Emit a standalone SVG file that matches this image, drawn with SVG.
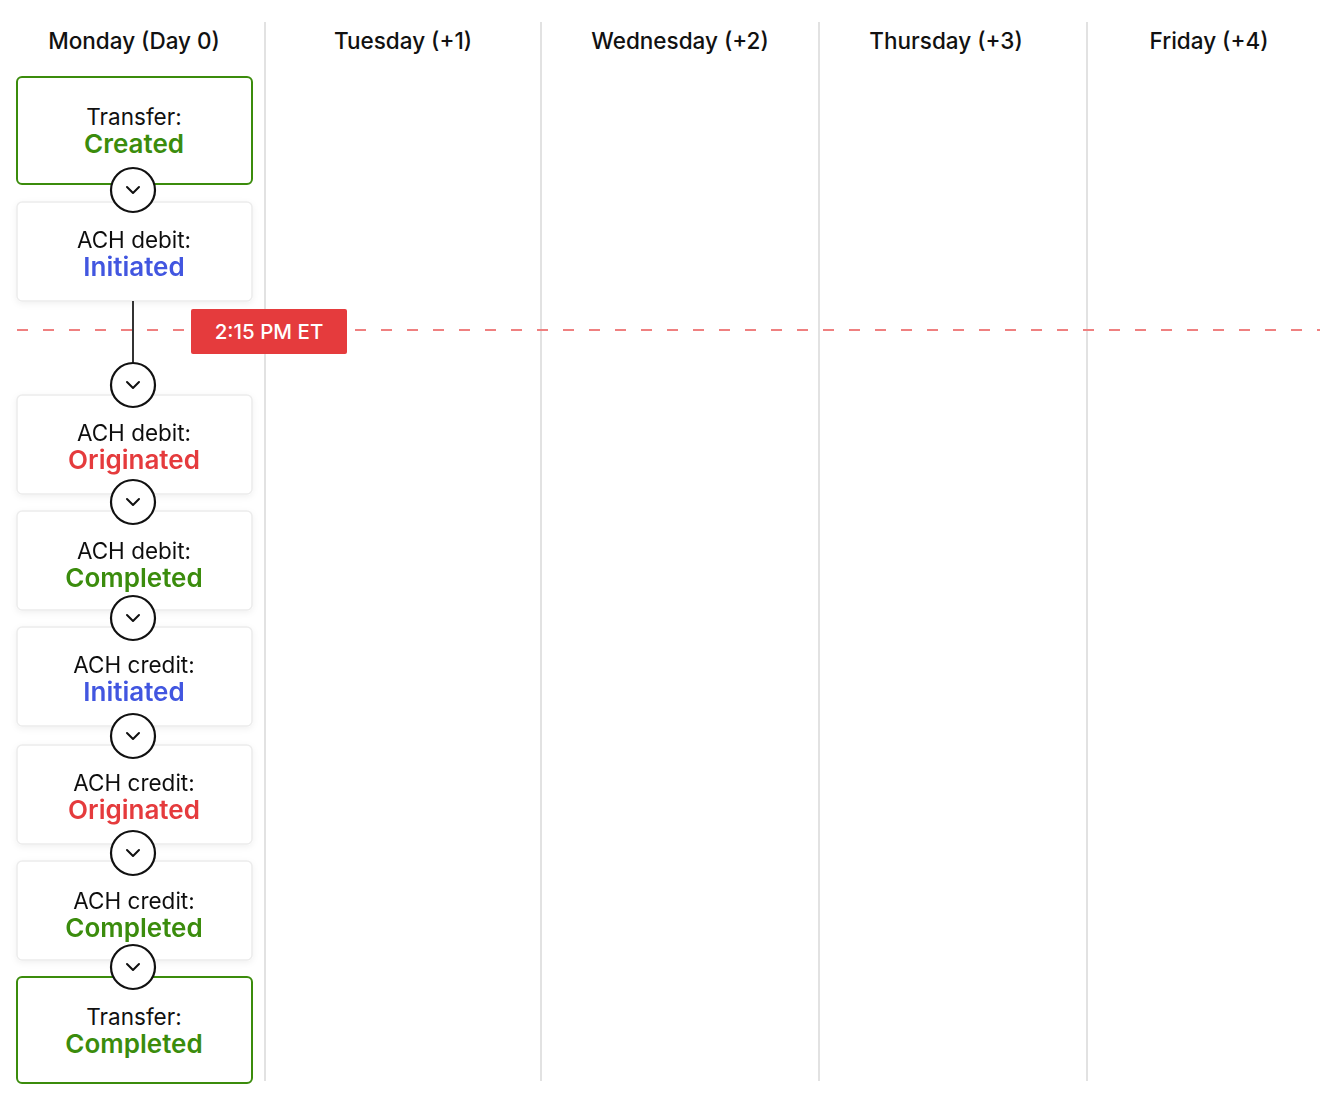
<svg xmlns="http://www.w3.org/2000/svg" width="1336" height="1102" viewBox="0 0 1336 1102">
<style>
.hdr{font-family:Inter,"Liberation Sans",sans-serif;font-size:22.5px;font-weight:500;fill:#111;text-anchor:middle}
.l1{font-family:Inter,"Liberation Sans",sans-serif;font-size:22.5px;font-weight:400;fill:#111;text-anchor:middle}
.l2{font-family:Inter,"Liberation Sans",sans-serif;font-size:26px;font-weight:600;text-anchor:middle}
.g{fill:#3b8c0c}.b{fill:#4257e0}.r{fill:#e53b3d}
.box{fill:#fff;stroke:#ececec;stroke-width:1.5}
.gbox{fill:#fff;stroke:#3b8c0c;stroke-width:2}
.div{stroke:#e2e2e2;stroke-width:2}
.circ{fill:#fff;stroke:#111;stroke-width:2.2}
.chev{fill:none;stroke:#111;stroke-width:2;stroke-linecap:round;stroke-linejoin:round}
</style>
<defs>
<filter id="sh" x="-10%" y="-10%" width="120%" height="130%">
<feDropShadow dx="0" dy="2" stdDeviation="3" flood-color="#000" flood-opacity="0.06"/>
</filter>
<g id="chevron"><circle class="circ" cx="0" cy="0" r="22"/><path class="chev" d="M-6,-3 L0,3 L6,-3"/></g>
</defs>
<rect width="1336" height="1102" fill="#fff"/>
<g id="dividers">
<line class="div" x1="265" y1="22" x2="265" y2="1081"/>
<line class="div" x1="541" y1="22" x2="541" y2="1081"/>
<line class="div" x1="819" y1="22" x2="819" y2="1081"/>
<line class="div" x1="1087" y1="22" x2="1087" y2="1081"/>
</g>
<g id="headers">
<text class="hdr" x="134" y="49">Monday (Day 0)</text>
<text class="hdr" x="403" y="49">Tuesday (+1)</text>
<text class="hdr" x="680" y="49">Wednesday (+2)</text>
<text class="hdr" x="946" y="49">Thursday (+3)</text>
<text class="hdr" x="1209" y="49">Friday (+4)</text>
</g>
<g id="cutoff">
<line x1="17" y1="330" x2="1320" y2="330" stroke="#ef8080" stroke-width="2" stroke-dasharray="11 15"/>
<rect x="191" y="309" width="156" height="45" rx="2" fill="#e53b3d"/>
<text x="269" y="339" font-family="Inter,'Liberation Sans',sans-serif" font-size="20.5" font-weight="500" fill="#fff" text-anchor="middle">2:15 PM ET</text>
</g>
<g id="n1"><rect class="gbox" x="17" y="77" width="235" height="107" rx="5"/><text class="l1" x="134" y="125">Transfer:</text><text class="l2 g" x="134" y="153">Created</text></g>
<g id="n2" filter="url(#sh)"><rect class="box" x="17" y="202" width="235" height="99" rx="5"/><text class="l1" x="134" y="248">ACH debit:</text><text class="l2 b" x="134" y="276">Initiated</text></g>
<g id="n3" filter="url(#sh)"><rect class="box" x="17" y="395" width="235" height="99" rx="5"/><text class="l1" x="134" y="441">ACH debit:</text><text class="l2 r" x="134" y="469">Originated</text></g>
<g id="n4" filter="url(#sh)"><rect class="box" x="17" y="511" width="235" height="99" rx="5"/><text class="l1" x="134" y="559">ACH debit:</text><text class="l2 g" x="134" y="587">Completed</text></g>
<g id="n5" filter="url(#sh)"><rect class="box" x="17" y="627" width="235" height="99" rx="5"/><text class="l1" x="134" y="673">ACH credit:</text><text class="l2 b" x="134" y="701">Initiated</text></g>
<g id="n6" filter="url(#sh)"><rect class="box" x="17" y="745" width="235" height="99" rx="5"/><text class="l1" x="134" y="791">ACH credit:</text><text class="l2 r" x="134" y="819">Originated</text></g>
<g id="n7" filter="url(#sh)"><rect class="box" x="17" y="861" width="235" height="99" rx="5"/><text class="l1" x="134" y="909">ACH credit:</text><text class="l2 g" x="134" y="937">Completed</text></g>
<g id="n8"><rect class="gbox" x="17" y="977" width="235" height="106" rx="5"/><text class="l1" x="134" y="1025">Transfer:</text><text class="l2 g" x="134" y="1053">Completed</text></g>
<g id="connectors">
<line x1="133" y1="301" x2="133" y2="364" stroke="#333" stroke-width="2"/>
<use href="#chevron" x="133" y="190"/>
<use href="#chevron" x="133" y="385"/>
<use href="#chevron" x="133" y="502"/>
<use href="#chevron" x="133" y="618"/>
<use href="#chevron" x="133" y="736"/>
<use href="#chevron" x="133" y="853"/>
<use href="#chevron" x="133" y="967"/>
</g>
</svg>
